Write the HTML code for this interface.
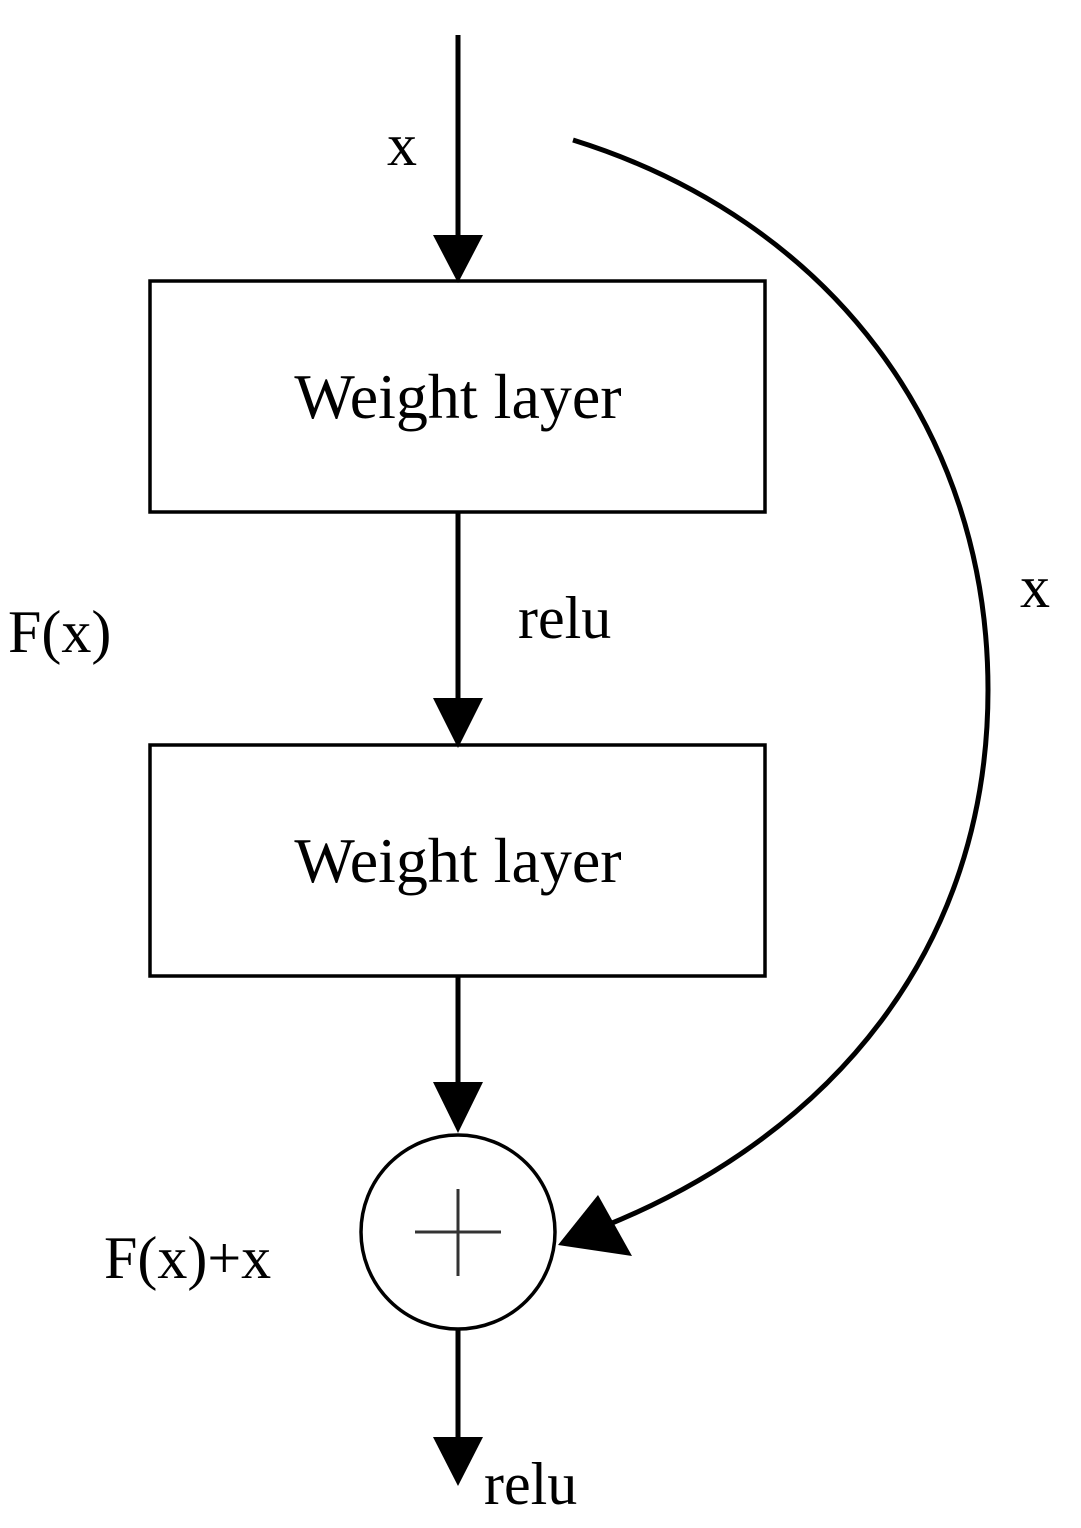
<!DOCTYPE html>
<html><head><meta charset="utf-8"><style>html,body{margin:0;padding:0;background:#fff}</style></head>
<body>
<svg width="1081" height="1528" viewBox="0 0 1081 1528" xmlns="http://www.w3.org/2000/svg" style="display:block">
<g stroke="#000" stroke-width="5" fill="none">
<line x1="458" y1="35" x2="458" y2="250"/>
<line x1="458" y1="512" x2="458" y2="712"/>
<line x1="458" y1="976" x2="458" y2="1095"/>
<line x1="458" y1="1330" x2="458" y2="1450"/>
<path d="M573,140 C830,220 988,430 988,690 C988,950 830,1135 605,1226"/>
</g>
<g fill="#000">
<polygon points="433,235 483,235 458,283"/>
<polygon points="433,698 483,698 458,748"/>
<polygon points="433,1082 483,1082 458,1133"/>
<polygon points="433,1437 483,1437 458,1486"/>
<polygon points="558,1245 632,1256 598,1195"/>
</g>
<rect x="150" y="281" width="615" height="231" fill="none" stroke="#000" stroke-width="3.5"/>
<rect x="150" y="745" width="615" height="231" fill="none" stroke="#000" stroke-width="3.5"/>
<circle cx="458" cy="1232" r="97" fill="none" stroke="#000" stroke-width="3.5"/>
<g stroke="#333" stroke-width="3">
<line x1="415" y1="1232" x2="501" y2="1232"/>
<line x1="458" y1="1189" x2="458" y2="1276"/>
</g>
<g font-family="Liberation Serif, serif" fill="#000">
<text x="458" y="418" font-size="64" text-anchor="middle">Weight layer</text>
<text x="458" y="882" font-size="64" text-anchor="middle">Weight layer</text>
<text x="387" y="165" font-size="60">x</text>
<text x="1020" y="607" font-size="60">x</text>
<text x="518" y="638" font-size="60">relu</text>
<text x="8" y="652" font-size="60">F(x)</text>
<text x="104" y="1278" font-size="60">F(x)+x</text>
<text x="484" y="1504" font-size="60">relu</text>
</g>
</svg>
</body></html>
